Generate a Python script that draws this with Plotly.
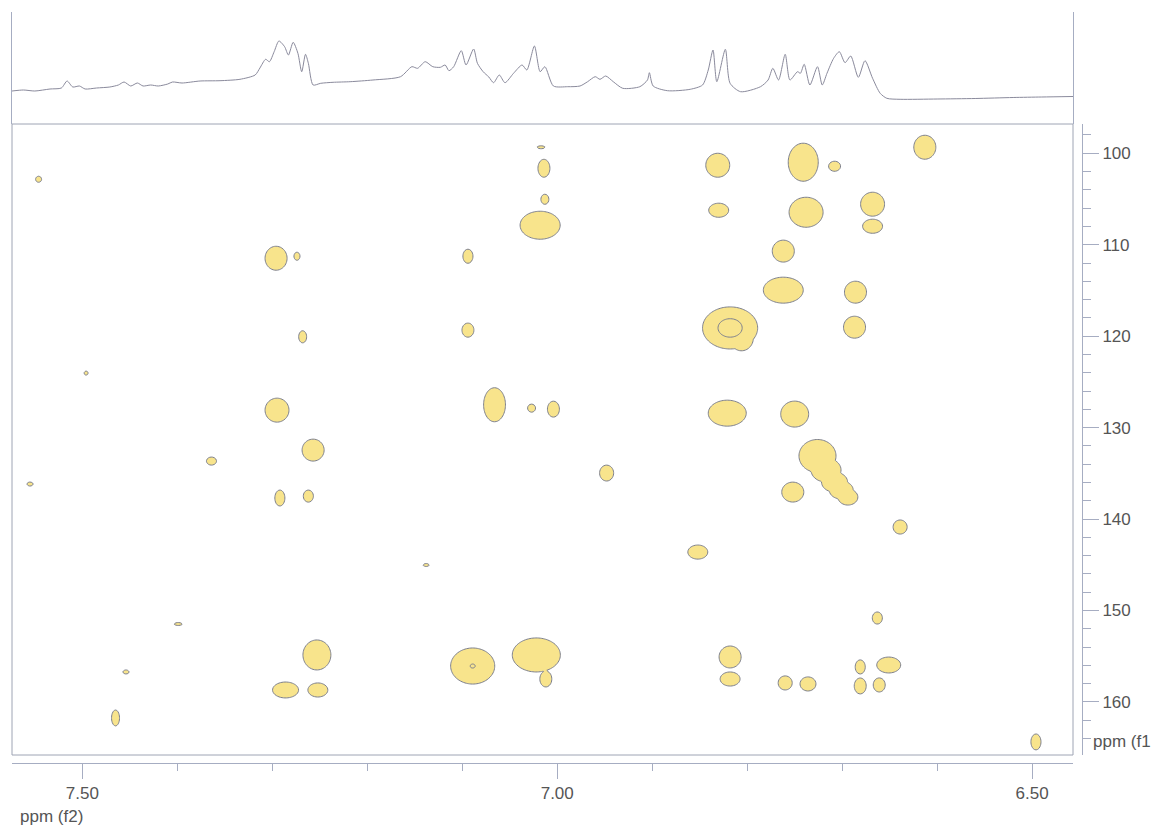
import numpy as np
import plotly.graph_objects as go

# ---------------- 1D projection (f2 ppm, intensity) ----------------
proj_ppm = [7.574, 7.562, 7.550, 7.534, 7.522, 7.516, 7.510, 7.503, 7.497, 7.485,
            7.471, 7.462, 7.456, 7.449, 7.442, 7.436, 7.428, 7.420, 7.410, 7.405,
            7.395, 7.376, 7.355, 7.334, 7.318, 7.313, 7.307, 7.303, 7.298, 7.293,
            7.287, 7.283, 7.278, 7.273, 7.269, 7.265, 7.262, 7.257, 7.249, 7.236,
            7.218, 7.194, 7.165, 7.153, 7.147, 7.139, 7.131, 7.123, 7.118, 7.114,
            7.109, 7.101, 7.096, 7.088, 7.084, 7.078, 7.072, 7.067, 7.061, 7.055,
            7.046, 7.037, 7.032, 7.024, 7.018, 7.013, 7.004, 6.989, 6.976, 6.968,
            6.960, 6.955, 6.949, 6.941, 6.931, 6.913, 6.905, 6.903, 6.899, 6.884,
            6.860, 6.847, 6.841, 6.836, 6.832, 6.823, 6.818, 6.807, 6.786, 6.778,
            6.773, 6.767, 6.760, 6.755, 6.747, 6.744, 6.740, 6.734, 6.726, 6.721,
            6.716, 6.709, 6.703, 6.697, 6.691, 6.683, 6.676, 6.668, 6.660, 6.653,
            6.639, 6.600, 6.560, 6.520, 6.490, 6.457]
proj_int = [33, 34, 33, 35, 36, 43, 37, 38, 35, 36,
            37, 39, 42, 38, 41, 38, 39, 38, 40, 42,
            41, 43, 43.3, 44.7, 49, 56, 64.7, 62.3, 72.3, 83,
            77.3, 69, 81.7, 70.7, 52.3, 69.7, 60.7, 39, 40.7, 41.7,
            42.3, 44, 47.3, 57.3, 55.7, 62.3, 57.3, 56.7, 59, 53.3,
            57.3, 73.3, 59, 75, 60.7, 52.3, 47, 41.3, 49, 41.3,
            50.7, 59, 54, 78, 52.3, 57.3, 38, 37.3, 38, 42.3,
            47.3, 44.7, 48, 42.3, 35.7, 37.3, 44, 51.3, 38, 33.3,
            34.7, 39, 54, 74, 42.3, 74.7, 40.7, 32.3, 37.3, 44,
            55.7, 44, 69.7, 44, 52.3, 50.7, 59.7, 39, 57.3, 39,
            50.7, 65.7, 72.3, 61.3, 68, 46.7, 63.3, 45.7, 30.7, 25.7,
            24.7, 25, 25.5, 26.5, 27, 27.5]

# ---------------- 2D cross peaks (f2 ppm, f1 ppm, half-widths, amplitude) ----------------
peak_f2 = [7.546, 7.555, 7.496, 7.465, 7.454, 7.399, 7.364, 7.296, 7.274, 7.268,
           7.295, 7.257, 7.292, 7.262, 7.253, 7.286, 7.252, 7.138, 7.094, 7.094,
           7.066, 7.027, 7.004, 7.089, 7.022, 7.012, 7.017, 7.014, 7.013, 7.018,
           6.948, 6.852, 6.831, 6.830, 6.818, 6.806, 6.821, 6.818, 6.818, 6.762,
           6.762, 6.741, 6.708, 6.738, 6.668, 6.668, 6.613, 6.686, 6.687, 6.750,
           6.752, 6.726, 6.717, 6.708, 6.701, 6.694, 6.639, 6.663, 6.681, 6.651,
           6.681, 6.661, 6.760, 6.736, 6.496]
peak_f1 = [102.84, 136.17, 124.04, 161.75, 156.72, 151.48, 133.66, 111.48, 111.26, 120.07,
           128.09, 132.46, 137.70, 137.49, 154.86, 158.69, 158.69, 145.03, 111.26, 119.34,
           127.50, 127.87, 127.98, 156.07, 154.86, 157.49, 99.34, 101.64, 105.03, 107.87,
           134.97, 143.61, 101.31, 106.23, 119.10, 120.20, 128.42, 155.08, 157.49, 110.70,
           114.97, 100.98, 101.42, 106.45, 105.57, 107.98, 99.34, 115.19, 119.02, 128.52,
           137.05, 133.10, 134.64, 135.96, 136.83, 137.60, 140.87, 150.82, 156.17, 155.96,
           158.25, 158.14, 157.92, 158.03, 164.37]
peak_rx = [0.0032, 0.0032, 0.0021, 0.0042, 0.0032, 0.0042, 0.0053, 0.0116, 0.0032, 0.0042,
           0.0126, 0.0116, 0.0053, 0.0053, 0.0147, 0.0137, 0.0105, 0.0032, 0.0053, 0.0063,
           0.0115, 0.0042, 0.0063, 0.0232, 0.0253, 0.0063, 0.0042, 0.0063, 0.0042, 0.0211,
           0.0074, 0.0105, 0.0126, 0.0105, 0.0290, 0.0125, 0.0200, 0.0116, 0.0105, 0.0116,
           0.0210, 0.0158, 0.0063, 0.0179, 0.0126, 0.0105, 0.0116, 0.0116, 0.0116, 0.0147,
           0.0116, 0.0195, 0.0158, 0.0137, 0.0126, 0.0105, 0.0074, 0.0053, 0.0053, 0.0126,
           0.0063, 0.0063, 0.0074, 0.0084, 0.0053]
peak_ry = [0.33, 0.22, 0.22, 0.87, 0.22, 0.16, 0.44, 1.31, 0.44, 0.66,
           1.31, 1.20, 0.87, 0.66, 1.64, 0.87, 0.77, 0.16, 0.77, 0.77,
           1.86, 0.44, 0.87, 1.97, 1.86, 0.87, 0.16, 0.98, 0.55, 1.53,
           0.87, 0.77, 1.31, 0.77, 2.30, 1.40, 1.42, 1.20, 0.77, 1.20,
           1.42, 2.08, 0.55, 1.64, 1.31, 0.77, 1.31, 1.20, 1.20, 1.42,
           1.09, 1.80, 1.31, 1.09, 0.98, 0.87, 0.77, 0.66, 0.77, 0.87,
           0.87, 0.77, 0.77, 0.77, 0.87]
peak_amp = [1.0] * len(peak_f2)
peak_amp[23] = 2.24   # tiny inner contour
peak_amp[34] = 3.0    # inner ring

x_range = [7.574, 6.457]
y_range = [165.8, 96.8]
x_ticks = [7.50, 7.00, 6.50]
x_ticktext = ["7.50", "7.00", "6.50"]
y_ticks = [100, 110, 120, 130, 140, 150, 160]

LEVEL = 0.6
INNER = 2.2

gx = np.linspace(x_range[0], x_range[1], 720)
gy = np.linspace(y_range[1], y_range[0], 470)
X, Y = np.meshgrid(gx, gy)
Z = np.zeros_like(X)
for f2, f1, rx, ry, a in zip(peak_f2, peak_f1, peak_rx, peak_ry, peak_amp):
    s = np.sqrt(2 * np.log(a / LEVEL))
    sx, sy = rx / s, ry / s
    g = a * np.exp(-0.5 * (((X - f2) / sx) ** 2 + ((Y - f1) / sy) ** 2))
    Z = np.maximum(Z, g)
Z = np.round(Z, 3).astype(np.float32)

YELLOW = "#F8E48C"
AXC = "#a6adc2"
TXT = "#555555"

fig = go.Figure()
fig.add_trace(go.Contour(
    x=gx, y=gy, z=Z, xaxis="x", yaxis="y",
    contours=dict(start=LEVEL, end=INNER, size=INNER - LEVEL, coloring="fill", showlines=True),
    line=dict(color="#7d808e", width=1, smoothing=1),
    colorscale=[[0, "rgba(255,255,255,0)"], [0.25, "rgba(255,255,255,0)"],
                [0.25, YELLOW], [1, YELLOW]],
    showscale=False, hoverinfo="skip"))
fig.add_trace(go.Scatter(
    x=proj_ppm, y=proj_int, xaxis="x2", yaxis="y2", mode="lines",
    line=dict(color="#8a8a9c", width=1, shape="spline", smoothing=0.7),
    hoverinfo="skip", showlegend=False))

AX_Y = 763      # pixel row of the f2 axis line
BOX_B = 755     # bottom of the 2D frame
BOX_T = 124     # top of the 2D frame
W = 1151 - 12 - 11
H = 825 - 12 - (825 - AX_Y)
xdom = [0, (1073 - 12) / W]
main_dom = [(AX_Y - BOX_B) / H, (AX_Y - BOX_T) / H]
top_dom = [(AX_Y - BOX_T) / H, 1]

fig.update_layout(
    width=1151, height=825, autosize=False,
    margin=dict(l=12, r=11, t=12, b=825 - AX_Y),
    paper_bgcolor="white", plot_bgcolor="white",
    showlegend=False,
    font=dict(family="Liberation Sans, Arial, sans-serif", size=17, color=TXT),
    xaxis=dict(domain=xdom, range=x_range, anchor="free", position=0,
               showline=True, linecolor=AXC, linewidth=1,
               ticks="outside", ticklen=15, tickcolor=AXC, tickwidth=1,
               tickvals=x_ticks, ticktext=x_ticktext,
               minor=dict(tickmode="linear", tick0=6.5, dtick=0.1, ticks="outside",
                          ticklen=7, tickcolor=AXC),
               showgrid=False, zeroline=False, tickfont=dict(size=17, color=TXT)),
    yaxis=dict(domain=main_dom, range=y_range, anchor="free", position=(1082 - 12) / W,
               side="right", showline=True, linecolor=AXC, linewidth=1,
               ticks="outside", ticklen=16, tickcolor=AXC, tickwidth=1,
               tickvals=y_ticks,
               minor=dict(tickmode="linear", tick0=100, dtick=2, ticks="outside",
                          ticklen=8, tickcolor=AXC),
               showgrid=False, zeroline=False, tickfont=dict(size=17, color=TXT)),
    xaxis2=dict(domain=xdom, range=x_range, anchor="y2", visible=False),
    yaxis2=dict(domain=top_dom, range=[0, 112], anchor="x2",
                showline=True, mirror=True, linecolor=AXC, linewidth=1,
                ticks="", showticklabels=False, showgrid=False, zeroline=False),
    shapes=[dict(type="rect", xref="x domain", yref="y domain", x0=0, x1=1, y0=0, y1=1,
                 line=dict(color="#9ea4b4", width=1), fillcolor="rgba(0,0,0,0)", layer="above")],
    annotations=[
        dict(text="ppm (f2)", xref="paper", yref="paper", x=(18 - 12) / W, y=(AX_Y - 816) / H,
             xanchor="left", yanchor="middle", showarrow=False, font=dict(size=17, color=TXT)),
        dict(text="ppm (f1", xref="paper", yref="paper", x=(1091 - 12) / W, y=(AX_Y - 741) / H,
             xanchor="left", yanchor="middle", showarrow=False, font=dict(size=17, color=TXT)),
    ],
)

fig.write_html("out.html")
